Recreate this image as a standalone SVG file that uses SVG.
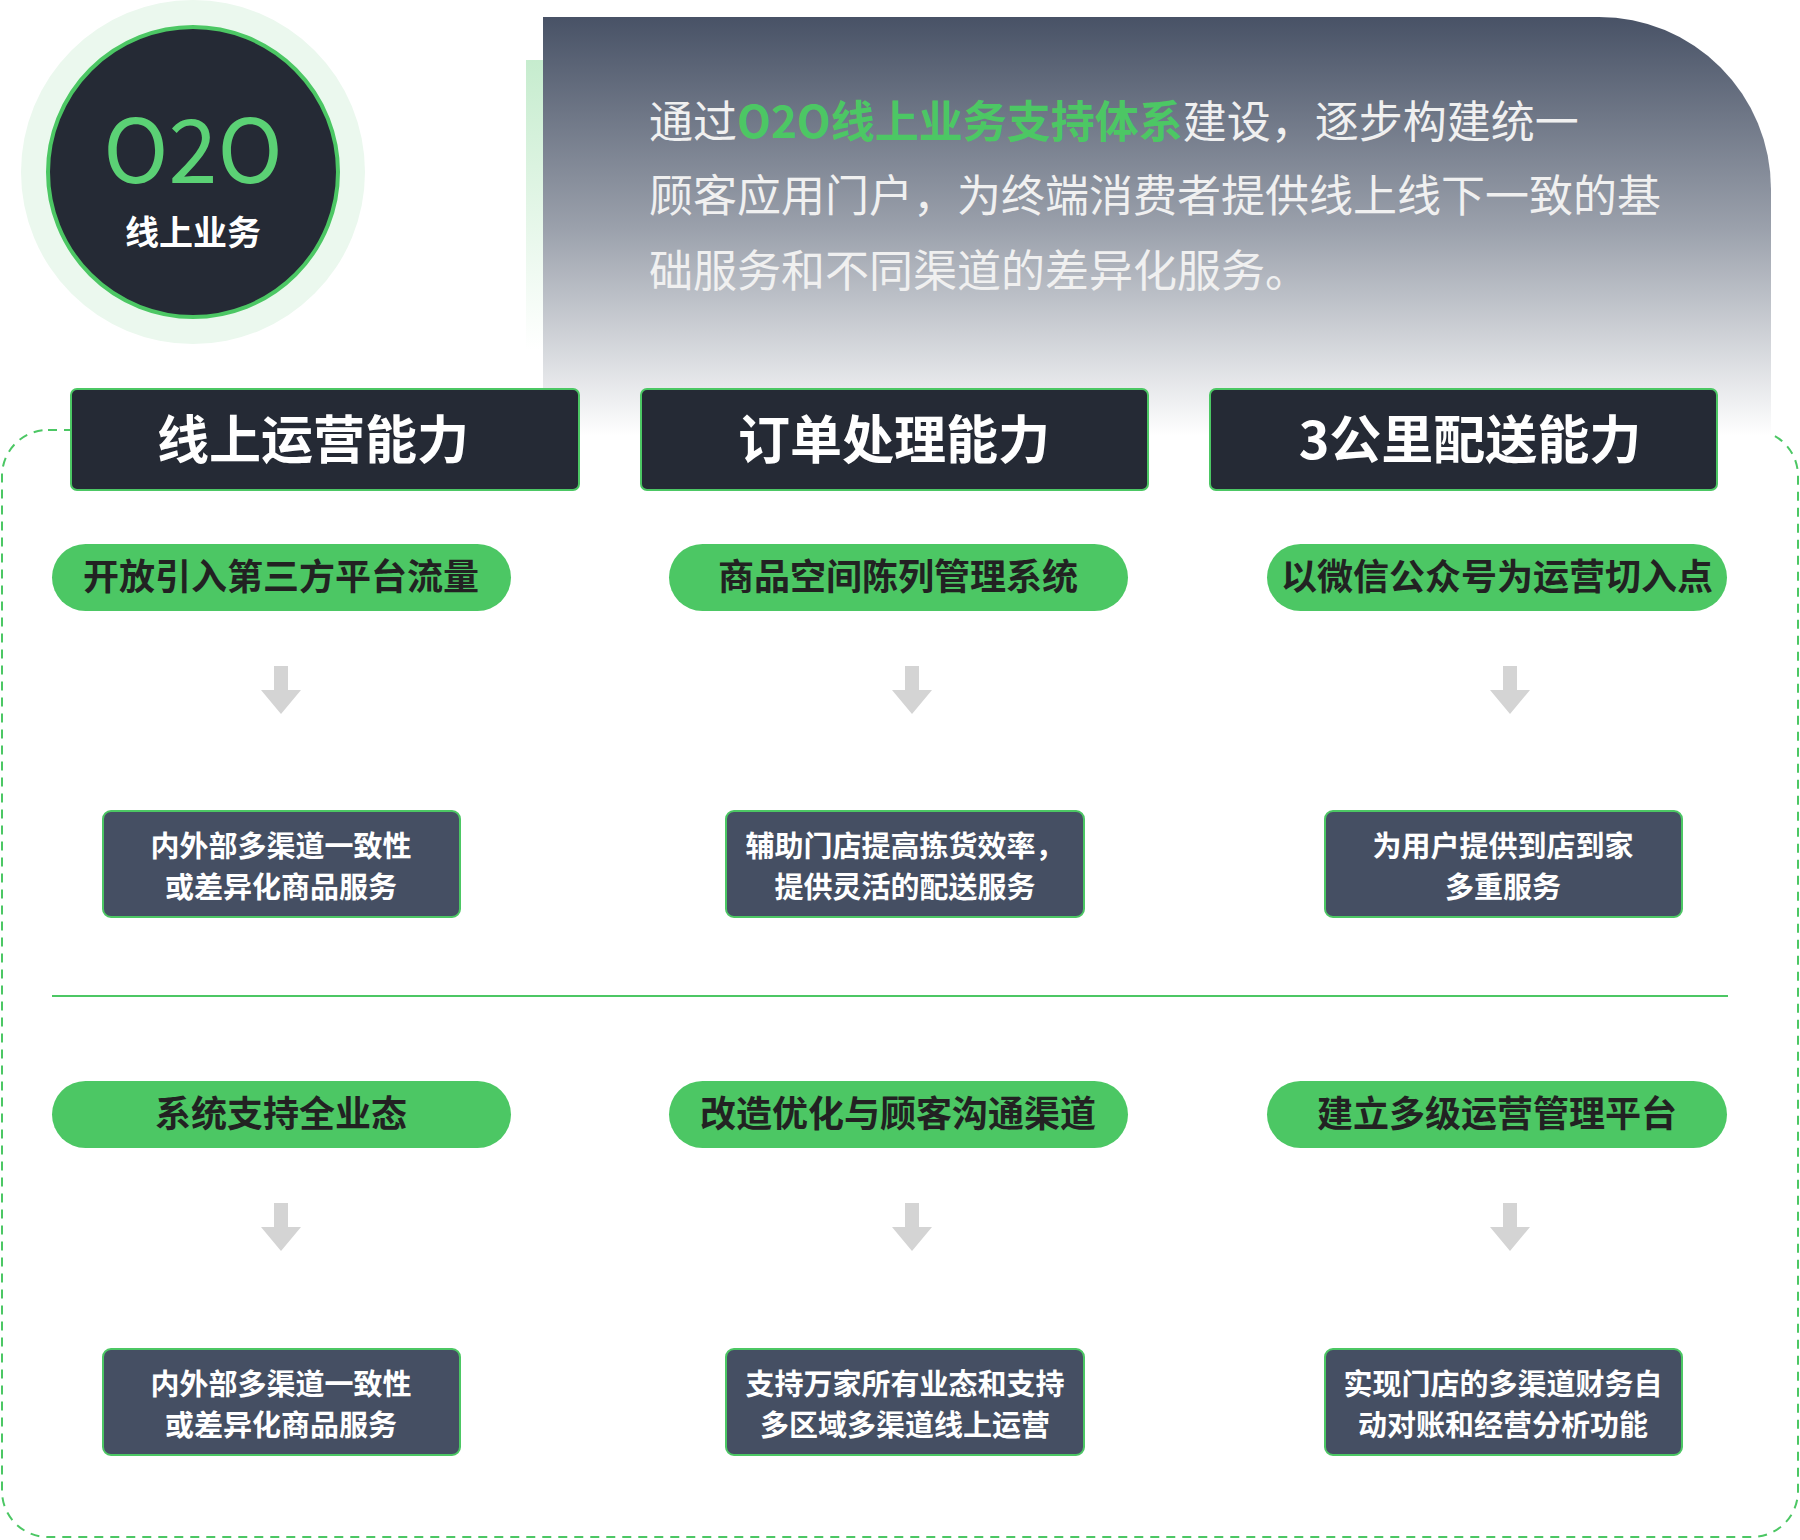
<svg xmlns="http://www.w3.org/2000/svg" width="1800" height="1540" viewBox="0 0 1800 1540">
<defs>
<linearGradient id="pg" x1="0" y1="0" x2="0" y2="1"><stop offset="0" stop-color="#485266"/><stop offset="0.5" stop-color="#9aa0ab"/><stop offset="1" stop-color="#ffffff"/></linearGradient>
<linearGradient id="sg" x1="0" y1="0" x2="0" y2="1"><stop offset="0" stop-color="#c6ecce"/><stop offset="1" stop-color="#ffffff"/></linearGradient>
</defs>
<style>
text{font-family:"Noto Sans CJK SC","Noto Sans",sans-serif;text-anchor:middle}
.hd rect{fill:#252a35;stroke:#4cc764;stroke-width:2}
.hd text{fill:#fff;font-size:52px;font-weight:bold}
.pl rect{fill:#4cc764}
.pl text{fill:#222;font-size:36px;font-weight:bold}
.bx rect{fill:#454f63;stroke:#4cc764;stroke-width:2}
.bx text{fill:#fff;font-size:29px;font-weight:bold}
.ar{fill:#d4d4d4}
.intro{fill:#f0f0f0;font-size:44px;text-anchor:start}
</style>
<rect x="2" y="430" width="1796" height="1107" rx="46" fill="none" stroke="#4cc764" stroke-width="2" stroke-dasharray="9 7"/>
<rect x="526" y="60" width="17" height="290" fill="url(#sg)"/>
<path d="M543 17H1599A172 172 0 0 1 1771 189V436H543Z" fill="url(#pg)"/>
<g id="intro">
<text class="intro" x="649" y="138">通过<tspan fill="#4cc764" font-weight="bold">O2O线上业务支持体系</tspan>建设，逐步构建统一</text>
<text class="intro" x="649" y="212">顾客应用门户，为终端消费者提供线上线下一致的基</text>
<text class="intro" x="649" y="287">础服务和不同渠道的差异化服务。</text>
</g>
<g id="logo">
<circle cx="193" cy="172" r="172" fill="#ebf8ee"/>
<circle cx="193" cy="172" r="145" fill="#252a35" stroke="#4cc764" stroke-width="4"/>
<text x="193" y="183" font-size="88" fill="#5bd175" font-family="Liberation Sans,sans-serif">O2O</text>
<text x="193" y="245" font-size="34" fill="#fff" font-weight="bold">线上业务</text>
</g>
<g id="h1" class="hd"><rect x="71" y="389" width="508" height="101" rx="6"/><text x="313" y="459">线上运营能力</text></g>
<g id="h2" class="hd"><rect x="641" y="389" width="507" height="101" rx="6"/><text x="894" y="459">订单处理能力</text></g>
<g id="h3" class="hd"><rect x="1210" y="389" width="507" height="101" rx="6"/><text x="1470" y="459">3公里配送能力</text></g>
<g id="p1" class="pl"><rect x="52" y="544" width="459" height="67" rx="33.5"/><text x="281" y="590">开放引入第三方平台流量</text></g>
<g id="p2" class="pl"><rect x="669" y="544" width="459" height="67" rx="33.5"/><text x="898" y="590">商品空间陈列管理系统</text></g>
<g id="p3" class="pl"><rect x="1267" y="544" width="460" height="67" rx="33.5"/><text x="1497" y="590">以微信公众号为运营切入点</text></g>
<g id="b1" class="bx"><rect x="103" y="811" width="357" height="106" rx="8"/><text x="281" y="857">内外部多渠道一致性</text><text x="281" y="898">或差异化商品服务</text></g>
<g id="b2" class="bx"><rect x="726" y="811" width="358" height="106" rx="8"/><text x="905" y="857">辅助门店提高拣货效率，</text><text x="905" y="898">提供灵活的配送服务</text></g>
<g id="b3" class="bx"><rect x="1325" y="811" width="357" height="106" rx="8"/><text x="1503" y="857">为用户提供到店到家</text><text x="1503" y="898">多重服务</text></g>
<line x1="52" y1="996" x2="1728" y2="996" stroke="#4cc764" stroke-width="2"/>
<g id="p4" class="pl"><rect x="52" y="1081" width="459" height="67" rx="33.5"/><text x="281" y="1127">系统支持全业态</text></g>
<g id="p5" class="pl"><rect x="669" y="1081" width="459" height="67" rx="33.5"/><text x="898" y="1127">改造优化与顾客沟通渠道</text></g>
<g id="p6" class="pl"><rect x="1267" y="1081" width="460" height="67" rx="33.5"/><text x="1497" y="1127">建立多级运营管理平台</text></g>
<g id="b4" class="bx"><rect x="103" y="1349" width="357" height="106" rx="8"/><text x="281" y="1395">内外部多渠道一致性</text><text x="281" y="1436">或差异化商品服务</text></g>
<g id="b5" class="bx"><rect x="726" y="1349" width="358" height="106" rx="8"/><text x="905" y="1395">支持万家所有业态和支持</text><text x="905" y="1436">多区域多渠道线上运营</text></g>
<g id="b6" class="bx"><rect x="1325" y="1349" width="357" height="106" rx="8"/><text x="1503" y="1395">实现门店的多渠道财务自</text><text x="1503" y="1436">动对账和经营分析功能</text></g>
<g id="connectors">
<path class="ar" d="M274 666h14v24h13l-20 24l-20-24h13z"/>
<path class="ar" d="M905 666h14v24h13l-20 24l-20-24h13z"/>
<path class="ar" d="M1503 666h14v24h13l-20 24l-20-24h13z"/>
<path class="ar" d="M274 1203h14v24h13l-20 24l-20-24h13z"/>
<path class="ar" d="M905 1203h14v24h13l-20 24l-20-24h13z"/>
<path class="ar" d="M1503 1203h14v24h13l-20 24l-20-24h13z"/>
</g>
</svg>
